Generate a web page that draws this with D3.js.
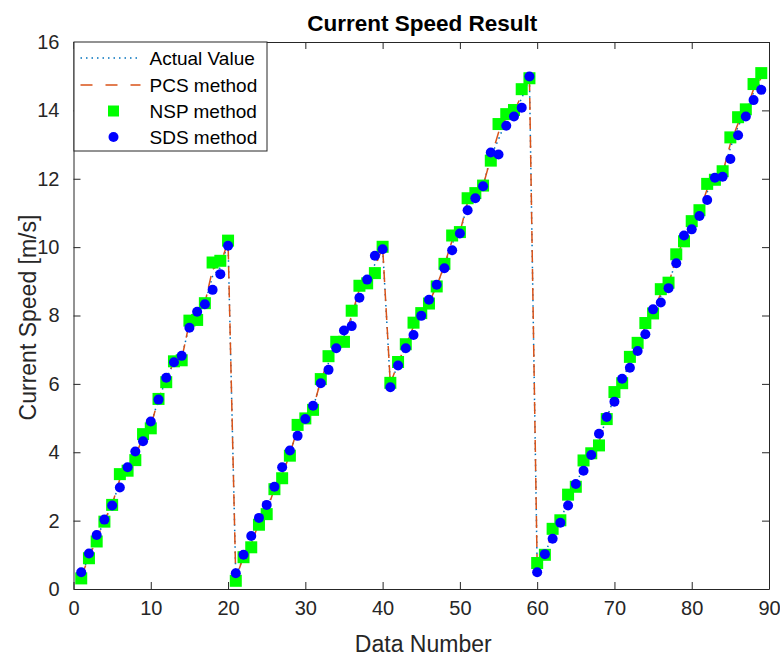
<!DOCTYPE html>
<html>
<head>
<meta charset="utf-8">
<script src="https://cdn.jsdelivr.net/npm/d3@7"></script>
<style>
  body { margin: 0; background: #fff; }
  svg { display: block; font-family: "Liberation Sans", Arial, sans-serif; }
</style>
</head>
<body>
<svg id="chart" width="780" height="656"></svg>
<script>
// data (data number 1..89)
var nsp = [0.31, 0.90, 1.39, 1.97, 2.46, 3.36, 3.46, 3.77, 4.53, 4.70, 5.56, 6.05, 6.66, 6.69, 7.85, 7.87, 8.36, 9.55, 9.60, 10.19,
  0.24, 0.93, 1.22, 1.88, 2.19, 2.92, 3.24, 3.90, 4.80, 4.99, 5.24, 6.14, 6.81, 7.23, 7.23, 8.14, 8.87, 8.94, 9.24, 10.01,
  6.03, 6.64, 7.16, 7.79, 8.07, 8.35, 8.85, 9.51, 10.34, 10.44, 11.43, 11.58, 11.80, 12.53, 13.60, 13.89, 14.01, 14.62, 14.94,
  0.76, 1.00, 1.76, 2.01, 2.76, 2.99, 3.76, 3.97, 4.20, 4.97, 5.76, 6.02, 6.79, 7.20, 7.78, 8.06, 8.77, 8.96, 9.79, 10.17,
  10.76, 11.08, 11.85, 11.97, 12.22, 13.21, 13.80, 14.03, 14.77, 15.09];

var sds = [0.49, 1.04, 1.58, 2.03, 2.44, 2.97, 3.56, 4.02, 4.32, 4.90, 5.54, 6.18, 6.63, 6.82, 7.64, 8.11, 8.33, 8.75, 9.21, 10.04,
  0.46, 1.00, 1.55, 2.08, 2.46, 2.99, 3.56, 4.05, 4.48, 4.97, 5.36, 6.02, 6.41, 7.04, 7.56, 7.69, 8.52, 9.05, 9.75, 9.94,
  5.90, 6.54, 7.04, 7.43, 7.99, 8.46, 8.90, 9.38, 9.91, 10.40, 11.08, 11.43, 11.78, 12.77, 12.71, 13.55, 13.82, 14.08, 14.99,
  0.49, 1.02, 1.47, 1.94, 2.44, 3.07, 3.46, 3.92, 4.54, 5.03, 5.48, 6.15, 6.47, 6.96, 7.45, 8.18, 8.38, 8.80, 9.53, 10.34,
  10.52, 10.91, 11.38, 12.03, 12.06, 12.58, 13.27, 13.82, 14.30, 14.60];

var actual = [0.40, 0.97, 1.48, 2.00, 2.45, 3.15, 3.51, 3.90, 4.42, 4.80, 5.55, 6.12, 6.65, 6.76, 7.74, 7.99, 8.35, 9.15, 9.40, 10.11,
  0.35, 0.96, 1.38, 1.98, 2.32, 2.95, 3.40, 3.98, 4.64, 4.98, 5.30, 6.08, 6.61, 7.13, 7.40, 7.91, 8.70, 9.00, 9.50, 9.98,
  5.96, 6.59, 7.10, 7.61, 8.03, 8.40, 8.88, 9.45, 10.12, 10.42, 11.25, 11.50, 11.79, 12.65, 13.15, 13.72, 13.92, 14.35, 14.96,
  0.62, 1.01, 1.62, 1.98, 2.60, 3.03, 3.61, 3.95, 4.37, 5.00, 5.62, 6.08, 6.63, 7.08, 7.61, 8.12, 8.57, 8.88, 9.66, 10.25,
  10.64, 11.00, 11.61, 12.00, 12.14, 12.90, 13.53, 13.92, 14.53, 14.85];

var pcs = [0.36, 0.93, 1.45, 2.01, 2.47, 3.22, 3.49, 3.86, 4.47, 4.76, 5.57, 6.09, 6.66, 6.73, 7.80, 7.93, 8.36, 9.35, 9.50, 10.15,
  0.30, 0.95, 1.31, 1.94, 2.27, 2.93, 3.33, 3.95, 4.70, 4.99, 5.28, 6.10, 6.70, 7.17, 7.33, 8.00, 8.78, 8.97, 9.40, 10.00,
  6.00, 6.62, 7.13, 7.68, 8.05, 8.38, 8.86, 9.48, 10.20, 10.43, 11.32, 11.53, 11.80, 12.60, 13.35, 13.79, 13.96, 14.45, 14.95,
  0.68, 1.00, 1.68, 2.00, 2.66, 3.01, 3.67, 3.96, 4.30, 4.99, 5.68, 6.05, 6.70, 7.13, 7.68, 8.09, 8.65, 8.91, 9.71, 10.22,
  10.68, 11.03, 11.70, 11.99, 12.17, 13.02, 13.62, 13.96, 14.62, 14.95];

var xTicks = [0, 10, 20, 30, 40, 50, 60, 70, 80, 90];
var yTicks = [0, 2, 4, 6, 8, 10, 12, 14, 16];
var legendNames = ["Actual Value", "PCS method", "NSP method", "SDS method"];

var margin = {top: 42, right: 11, bottom: 67, left: 73.5},
    width = 780 - margin.left - margin.right,
    height = 656 - margin.top - margin.bottom;

var axisColor = "#262626";

var svg = d3.select("#chart");
var g = svg.append("g").attr("transform", "translate(" + margin.left + "," + margin.top + ")");

var x = d3.scaleLinear().domain([0, 90]).range([0, width]);
var y = d3.scaleLinear().domain([0, 16]).range([height, 0]);

// lines
var line = d3.line().x(function(d, i) { return x(i + 1); }).y(function(d) { return y(d); });

g.append("path").datum(actual)
  .attr("d", line).attr("fill", "none")
  .attr("stroke", "#0072BD").attr("stroke-width", 1.5)
  .attr("stroke-dasharray", "1.5,4");

g.append("path").datum(pcs)
  .attr("d", line).attr("fill", "none")
  .attr("stroke", "#D95319").attr("stroke-width", 1.5)
  .attr("stroke-dasharray", "12,7");

// markers
g.selectAll("rect.nsp").data(nsp).enter().append("rect")
  .attr("class", "nsp")
  .attr("x", function(d, i) { return x(i + 1) - 6; })
  .attr("y", function(d) { return y(d) - 6; })
  .attr("width", 12).attr("height", 12)
  .attr("fill", "#00ff00");

g.selectAll("circle.sds").data(sds).enter().append("circle")
  .attr("class", "sds")
  .attr("cx", function(d, i) { return x(i + 1); })
  .attr("cy", function(d) { return y(d); })
  .attr("r", 5)
  .attr("fill", "#0000ff");

// axes, ticks point inwards on all four sides
var tickLen = 7;
var xAxis = g.append("g").attr("transform", "translate(0," + height + ")")
  .call(d3.axisBottom(x).tickValues(xTicks).tickSizeInner(-tickLen).tickSizeOuter(0).tickPadding(tickLen + 5));
var yAxis = g.append("g")
  .call(d3.axisLeft(y).tickValues(yTicks).tickSizeInner(-tickLen).tickSizeOuter(0).tickPadding(tickLen + 7));
var xTop = g.append("g")
  .call(d3.axisTop(x).tickValues(xTicks).tickSizeInner(-tickLen).tickSizeOuter(0).tickFormat(""));
var yRight = g.append("g").attr("transform", "translate(" + width + ",0)")
  .call(d3.axisRight(y).tickValues(yTicks).tickSizeInner(-tickLen).tickSizeOuter(0).tickFormat(""));

[xAxis, yAxis, xTop, yRight].forEach(function(a) {
  a.select(".domain").attr("stroke", axisColor).attr("stroke-width", 1);
  a.selectAll(".tick line").attr("stroke", axisColor);
  a.selectAll("text").attr("fill", axisColor).attr("font-size", 20)
    .attr("font-family", "'Liberation Sans', Arial, sans-serif");
});

// labels and title
svg.append("text")
  .attr("x", margin.left + width / 2 + 2).attr("y", 652)
  .attr("text-anchor", "middle").attr("font-size", 23).attr("fill", axisColor)
  .text("Data Number");

svg.append("text")
  .attr("transform", "translate(36," + (margin.top + height / 2 + 2) + ") rotate(-90)")
  .attr("text-anchor", "middle").attr("font-size", 23).attr("fill", axisColor)
  .text("Current Speed [m/s]");

svg.append("text")
  .attr("x", margin.left + width / 2 + 1).attr("y", 31)
  .attr("text-anchor", "middle").attr("font-size", 22.5).attr("font-weight", "bold").attr("fill", "#000")
  .text("Current Speed Result");

// legend
var leg = g.append("g");
leg.append("rect")
  .attr("x", 0.5).attr("y", 0).attr("width", 193).attr("height", 109)
  .attr("fill", "#fff").attr("stroke", axisColor).attr("stroke-width", 1);

var rowY = [16, 43, 69, 95];
leg.append("line").attr("x1", 7).attr("x2", 67).attr("y1", rowY[0]).attr("y2", rowY[0])
  .attr("stroke", "#0072BD").attr("stroke-width", 1.5).attr("stroke-dasharray", "1.5,4");
leg.append("line").attr("x1", 7).attr("x2", 67).attr("y1", rowY[1]).attr("y2", rowY[1])
  .attr("stroke", "#D95319").attr("stroke-width", 1.5).attr("stroke-dasharray", "12,13");
leg.append("rect").attr("x", 40 - 5.5).attr("y", rowY[2] - 5.5).attr("width", 11).attr("height", 11)
  .attr("fill", "#00ff00");
leg.append("circle").attr("cx", 40).attr("cy", rowY[3]).attr("r", 5).attr("fill", "#0000ff");

leg.selectAll("text.lg").data(legendNames).enter().append("text")
  .attr("class", "lg")
  .attr("x", 76).attr("y", function(d, i) { return rowY[i]; })
  .attr("dy", "0.35em").attr("font-size", 19).attr("fill", "#000")
  .text(function(d) { return d; });
</script>
</body>
</html>
